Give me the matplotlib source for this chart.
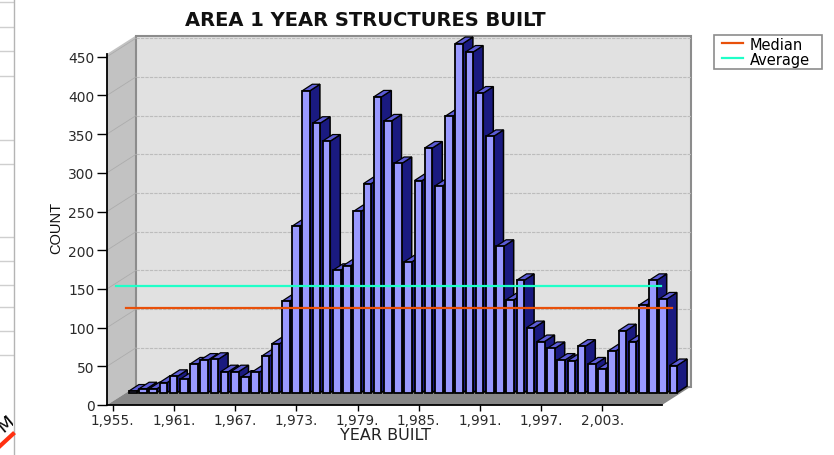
import matplotlib
matplotlib.use('Agg')
from matplotlib import pyplot as plt
from matplotlib.lines import Line2D
from matplotlib.patches import Polygon, Rectangle
from matplotlib.transforms import Bbox

# valores
anos = list(range(1955, 2009))
contagem = [2, 5, 5, 13, 21, 17, 37, 42, 43, 27, 27, 20, 26, 47, 63, 118, 215, 390,
            348, 325, 158, 164, 234, 270, 382, 351, 296, 169, 274, 316, 267, 357,
            451, 440, 387, 331, 189, 120, 145, 84, 66, 57, 42, 41, 60, 37, 31, 54,
            80, 66, 113, 145, 121, 35]
media = 154
mediana = 125
anos_ticks = [1955, 1961, 1967, 1973, 1979, 1985, 1991, 1997, 2003]
rotulos_x = ['1,955.', '1,961.', '1,967.', '1,973.', '1,979.', '1,985.', '1,991.', '1,997.', '2,003.']
valores_y = [0, 50, 100, 150, 200, 250, 300, 350, 400, 450]

# restos da janela recortada na margem esquerda
linhas_margem = [3, 28, 52, 77, 141, 165, 238, 262, 286, 308, 332, 356]

W, H = 834, 456
fig = plt.figure(figsize=(W / 100, H / 100), dpi=100, facecolor='white')
ax = fig.add_axes([107 / W, 1 - 406 / H, (662 - 107) / W, (406 - 55) / H])

# escala: 10.2 px por ano, 0.774 px por unidade
x0 = 1955 - (112.7 - 107) / 10.2
x1 = 1955 + (662 - 112.7) / 10.2
ax.set_xlim(x0, x1)
ax.set_ylim(0, 351 / 0.774)
ax.patch.set_visible(False)

px_x = 1 / 10.2
px_y = 1 / 0.774
prof_x = 29 * px_x
prof_y = 18.5 * px_y
topo = 351 * px_y


def poligono(pontos, **kw):
    ax.add_patch(Polygon(pontos, closed=True, clip_on=False, **kw))


# paredes e chao
poligono([(x0, 0), (x0, topo), (x0 + prof_x, topo + prof_y), (x0 + prof_x, prof_y)],
         facecolor='#c2c2c2', edgecolor='none', zorder=1)
poligono([(x0 + prof_x, prof_y), (x0 + prof_x, topo + prof_y), (x1 + prof_x, topo + prof_y), (x1 + prof_x, prof_y)],
         facecolor='#e1e1e1', edgecolor='#8c8c8c', linewidth=1.5, zorder=1)
poligono([(x0, 0), (x0 + prof_x, prof_y), (x1 + prof_x, prof_y), (x1, 0)],
         facecolor='#868686', edgecolor='none', zorder=2)
for v in valores_y[1:]:
    ax.plot([x0 + prof_x, x1 + prof_x], [v + prof_y, v + prof_y], color='#bcbcbc', lw=0.8, ls=(0, (3, 1)),
            clip_on=False, zorder=2)
    ax.plot([x0, x0 + prof_x], [v, v + prof_y], color='#acacac', lw=0.6, clip_on=False, zorder=2)

# barras 3D
desl_x = 20 * px_x
base = 12.4 * px_y
larg = 7.6 * px_x
lado_x = 10 * px_x
lado_y = 6.5 * px_y
for i, (ano, n) in enumerate(zip(anos, contagem)):
    z = 3 + i * 0.01
    esq = ano + desl_x - larg / 2
    dir_ = esq + larg
    alto = base + n
    poligono([(dir_, base), (dir_, alto), (dir_ + lado_x, alto + lado_y), (dir_ + lado_x, base + lado_y)],
             facecolor='#1a1a80', edgecolor='black', linewidth=1.1, zorder=z)
    poligono([(esq, alto), (esq + lado_x, alto + lado_y), (dir_ + lado_x, alto + lado_y), (dir_, alto)],
             facecolor='#5c5cd6', edgecolor='black', linewidth=0.9, zorder=z)
    ax.bar(ano + desl_x, n, width=larg, bottom=base, color='#9999ff', edgecolor='black', linewidth=1.3,
           zorder=z + 0.005, clip_on=False)

ax.plot([1955.3, 2008.8], [media, media], color='#1fffc8', lw=1.6, clip_on=False, zorder=5, label='Average')
ax.plot([1956.3, 2009.8], [mediana, mediana], color='#e8500a', lw=1.6, clip_on=False, zorder=5, label='Median')

# eixos
for lado in ['top', 'right']:
    ax.spines[lado].set_visible(False)
for lado in ['left', 'bottom']:
    ax.spines[lado].set_linewidth(1.3)
    ax.spines[lado].set_zorder(6)
ax.set_xticks(anos_ticks)
ax.set_xticklabels(rotulos_x, fontsize=9.8, color='#2a2a2a')
ax.set_yticks(valores_y)
ax.set_yticklabels(valores_y, fontsize=10, color='#2a2a2a')
ax.tick_params(axis='x', length=4, width=1, pad=2)
ax.tick_params(axis='y', length=7, width=1, pad=2)

fig.text(365 / W, 1 - 20 / H, 'AREA 1 YEAR STRUCTURES BUILT', ha='center', va='center',
         fontsize=14, fontweight='bold', color='#111111')
fig.text(385 / W, 1 - 436 / H, 'YEAR BUILT', ha='center', va='center', fontsize=11.5, color='#222222')
fig.text(56 / W, 1 - 228 / H, 'COUNT', ha='center', va='center', rotation=90, fontsize=10.5,
         family='Liberation Sans', color='#111111')

# legenda
fig.add_artist(Rectangle((713.5 / W, 1 - 69.5 / H), 108 / W, 34 / H, transform=fig.transFigure,
                         facecolor='white', edgecolor='#8c8c8c', linewidth=1.2))
h, l = ax.get_legend_handles_labels()
leg = fig.legend(h[::-1], l[::-1], loc='upper left', bbox_to_anchor=(722 / W, 1 - 37.5 / H), fontsize=10.5,
                 frameon=False, borderpad=0, labelspacing=0.0, handlelength=1.45, handletextpad=0.45,
                 borderaxespad=0)

# margem esquerda
for y in linhas_margem:
    fig.add_artist(Line2D([0, 13 / W], [1 - y / H, 1 - y / H], color='#cfcfcf', lw=1))
fig.add_artist(Line2D([13.5 / W, 13.5 / W], [0, 1], color='#b4b4b4', lw=1))
fig.add_artist(Line2D([0, 13 / W], [1 - 447 / H, 1 - 435 / H], color='#ff3010', lw=3))
marca = fig.text(6 / W, 1 - 424 / H, 'M', rotation=40, ha='center', va='center', fontsize=13, color='#000000')
marca.set_clip_box(Bbox([[0, 0], [13, H]]))
marca.set_clip_on(True)

fig.savefig('out.png', dpi=100, facecolor='white')
